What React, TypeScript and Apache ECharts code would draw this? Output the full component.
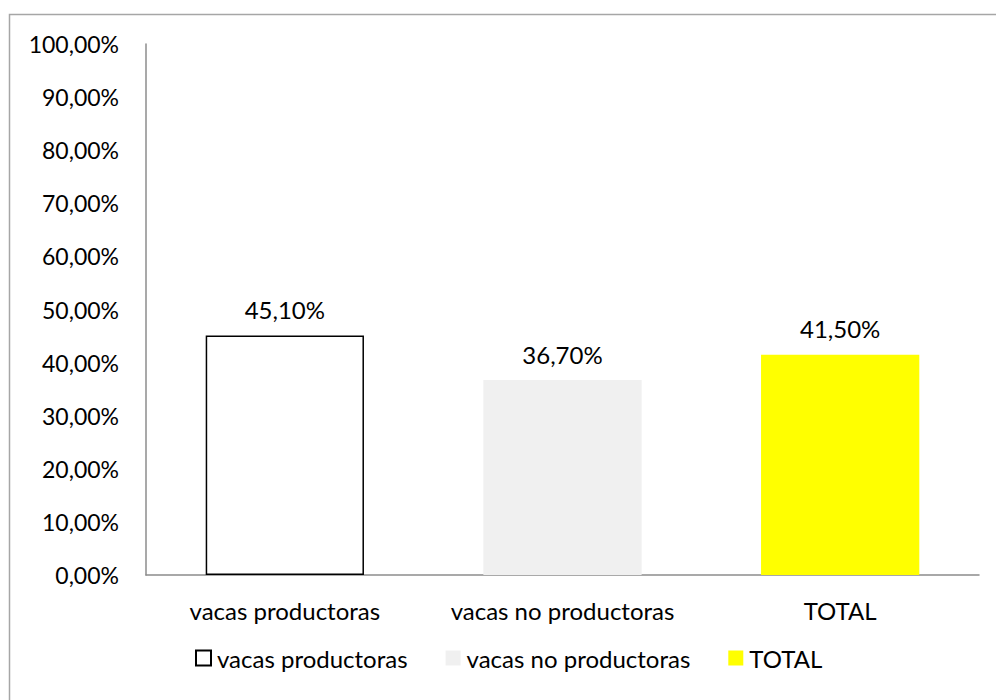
import React, { useEffect, useRef } from "react";
import * as echarts from "echarts";

const categories = ["vacas productoras", "vacas no productoras", "TOTAL"];
const seriesNames = ["vacas productoras", "vacas no productoras", "TOTAL"];
const values = [45.1, 36.7, 41.5];
const yTicks = { min: 0, max: 100, interval: 10 };

const FONT = "Lato, 'Open Sans', sans-serif";

export default function App() {
  const ref = useRef<HTMLDivElement>(null);
  useEffect(() => {
    if (!ref.current) return;
    const chart = echarts.init(ref.current, null, { renderer: "svg" });
    const fills = ["#ffffff", "#f0f0f0", "#ffff00"];
    const borders = ["#000000", "#f0f0f0", "#ffff00"];
    const fmt = (v: number) => v.toFixed(2).replace(".", ",") + "%";
    const series = seriesNames.map((name, i) => ({
      name,
      type: "bar",
      stack: "s",
      barWidth: "57%",
      data: categories.map((_, j) => (j === i ? values[i] : "-")),
      itemStyle: {
        color: fills[i],
        borderColor: borders[i],
        borderWidth: i === 0 ? 1.5 : 0,
      },
      label: {
        show: true,
        position: "top",
        distance: 14,
        color: "#000",
        fontFamily: FONT,
        fontSize: 24,
        formatter: (p: any) => fmt(p.value),
      },
    }));
    chart.setOption({
      animation: false,
      textStyle: { fontFamily: FONT },
      graphic: [
        {
          type: "rect",
          shape: { x: 9.5, y: 14.5, width: 1000, height: 700 },
          style: { fill: "none", stroke: "#a6a6a6", lineWidth: 1.5 },
          silent: true,
        },
      ],
      grid: { left: 146, right: 17, top: 44, bottom: 125 },
      legend: {
        bottom: 25,
        left: 190,
        itemWidth: 15,
        itemHeight: 15,
        itemGap: 38,
        icon: "rect",
        textStyle: { fontFamily: FONT, fontSize: 24, color: "#000", padding: [0, 0, 0, 1] },
        data: seriesNames,
      },
      xAxis: {
        type: "category",
        data: categories,
        axisLine: { lineStyle: { color: "#8c8c8c", width: 1.5 } },
        axisTick: { show: false },
        axisLabel: {
          color: "#000",
          fontFamily: FONT,
          fontSize: 24,
          margin: 23,
          interval: 0,
          hideOverlap: false,
        },
      },
      yAxis: {
        type: "value",
        min: yTicks.min,
        max: yTicks.max,
        interval: yTicks.interval,
        axisLine: { show: true, lineStyle: { color: "#8c8c8c", width: 1.5 } },
        axisTick: { show: false },
        splitLine: { show: false },
        axisLabel: {
          color: "#000",
          fontFamily: FONT,
          fontSize: 23,
          margin: 27,
          formatter: (v: number) => fmt(v),
        },
      },
      series,
    });
    return () => chart.dispose();
  }, []);
  return (
    <div
      ref={ref}
      style={{ position: "fixed", left: 0, top: 0, width: 996, height: 700, background: "#fff" }}
    />
  );
}
